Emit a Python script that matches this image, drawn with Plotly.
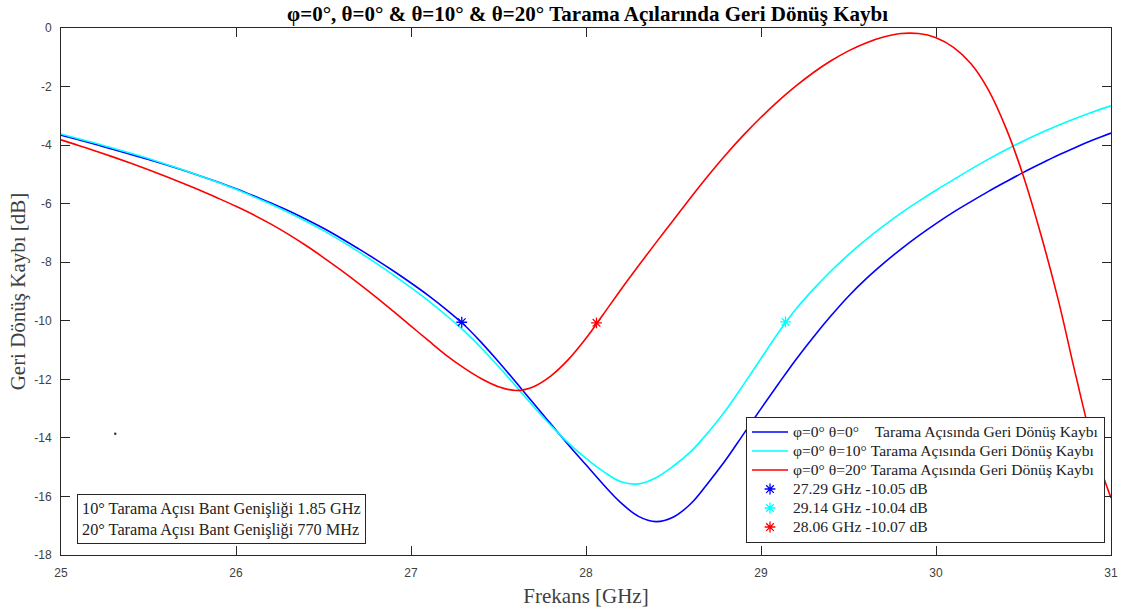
import plotly.graph_objects as go

# Frequency grid [GHz] shared by the three sweeps
freq = [25.0, 25.1, 25.2, 25.3, 25.4, 25.5, 25.6, 25.7, 25.8, 25.9,
        26.0, 26.1, 26.2, 26.3, 26.4, 26.5, 26.6, 26.7, 26.8, 26.9,
        27.0, 27.1, 27.2, 27.3, 27.4, 27.5, 27.6, 27.7, 27.8, 27.9,
        28.0, 28.1, 28.2, 28.3, 28.4, 28.5, 28.6, 28.7, 28.8, 28.9,
        29.0, 29.1, 29.2, 29.3, 29.4, 29.5, 29.6, 29.7, 29.8, 29.9,
        30.0, 30.1, 30.2, 30.3, 30.4, 30.5, 30.6, 30.7, 30.8, 30.9, 31.0]

# Return loss [dB], theta = 0 deg
rl_t0 = [-3.66, -3.82, -3.98, -4.15, -4.32, -4.49, -4.67, -4.86, -5.06, -5.27,
         -5.49, -5.73, -5.98, -6.24, -6.53, -6.84, -7.18, -7.54, -7.91, -8.30,
         -8.71, -9.14, -9.61, -10.12, -10.73, -11.40, -12.10, -12.82, -13.53, -14.24,
         -14.92, -15.60, -16.22, -16.68, -16.86, -16.70, -16.24, -15.52, -14.74, -13.87,
         -13.00, -12.15, -11.32, -10.55, -9.83, -9.16, -8.57, -8.04, -7.55, -7.10,
         -6.68, -6.29, -5.93, -5.58, -5.25, -4.93, -4.63, -4.34, -4.07, -3.82, -3.59]

# Return loss [dB], theta = 10 deg
rl_t10 = [-3.62, -3.78, -3.94, -4.11, -4.28, -4.46, -4.65, -4.85, -5.06, -5.28,
          -5.51, -5.76, -6.02, -6.30, -6.60, -6.92, -7.27, -7.64, -8.03, -8.44,
          -8.87, -9.32, -9.81, -10.33, -10.92, -11.56, -12.24, -12.93, -13.58, -14.18,
          -14.70, -15.15, -15.50, -15.57, -15.36, -14.96, -14.46, -13.80, -13.05, -12.18,
          -11.29, -10.40, -9.60, -8.92, -8.30, -7.74, -7.23, -6.76, -6.32, -5.92,
          -5.54, -5.18, -4.82, -4.48, -4.16, -3.86, -3.58, -3.32, -3.08, -2.86, -2.66]

# Return loss [dB], theta = 20 deg
rl_t20 = [-3.82, -4.01, -4.21, -4.41, -4.62, -4.84, -5.07, -5.31, -5.56, -5.82,
          -6.09, -6.38, -6.70, -7.05, -7.43, -7.84, -8.27, -8.72, -9.19, -9.68,
          -10.18, -10.68, -11.17, -11.60, -11.97, -12.25, -12.38, -12.25, -11.88, -11.32,
          -10.60, -9.77, -8.93, -8.12, -7.33, -6.56, -5.78, -5.03, -4.32, -3.66,
          -3.05, -2.49, -1.98, -1.52, -1.12, -0.78, -0.51, -0.31, -0.19, -0.19,
          -0.33, -0.66, -1.22, -2.12, -3.42, -5.07, -7.07, -9.32, -11.90, -14.30, -16.05]

# -10 dB crossing points
mark_freq = [27.29, 29.14, 28.06]
mark_rl = [-10.05, -10.04, -10.07]
mark_names = ["27.29 GHz -10.05 dB", "29.14 GHz -10.04 dB", "28.06 GHz -10.07 dB"]

line_names = [
    "φ=0° θ=0°\u00a0\u00a0\u00a0 Tarama Açısında Geri Dönüş Kaybı",
    "φ=0° θ=10° Tarama Açısında Geri Dönüş Kaybı",
    "φ=0° θ=20° Tarama Açısında Geri Dönüş Kaybı",
]
colors = ["#0000FF", "#00FFFF", "#FF0000"]

# stray data-tip point left on the axes
stray_freq = [25.31]
stray_rl = [-13.86]

x_ticks = [25, 26, 27, 28, 29, 30, 31]
y_ticks = [0, -2, -4, -6, -8, -10, -12, -14, -16, -18]
y_ticktext = ["0", "-2", "-4", "-6", "-8", "-10", "-12", "-14", "-16", "-18"]

title_text = "<b>φ=0°, θ=0° & θ=10° & θ=20° Tarama Açılarında Geri Dönüş Kaybı</b>"
box_text = ("10° Tarama Açısı Bant Genişliği 1.85 GHz<br>"
            "20° Tarama Açısı Bant Genişliği 770 MHz")

serif = "Liberation Serif, Times New Roman, serif"
sans = "Liberation Sans, Arial, sans-serif"


def legend_label(text):
    # larger glyphs than the legend's base size keep the rows compact
    return '<span style="font-size:15.6px">' + text + "</span>"


fig = go.Figure()

for fy, name, c in zip([rl_t0, rl_t10, rl_t20], line_names, colors):
    fig.add_trace(go.Scatter(
        x=freq, y=fy, mode="lines", name=legend_label(name),
        line=dict(color=c, width=1.6, shape="spline", smoothing=1),
    ))

for mx, my, name, c in zip(mark_freq, mark_rl, mark_names, colors):
    fig.add_trace(go.Scatter(
        x=[mx], y=[my], mode="markers", name=legend_label(name),
        marker=dict(symbol="asterisk", size=9, color=c,
                    line=dict(color=c, width=1.3)),
    ))

fig.add_trace(go.Scatter(
    x=stray_freq, y=stray_rl, mode="markers", showlegend=False,
    marker=dict(size=2.5, color="#333333"), hoverinfo="skip",
))

axis_common = dict(
    showline=True, linecolor="#262626", linewidth=1, mirror="ticks",
    ticks="inside", ticklen=9, tickwidth=1, tickcolor="#262626",
    showgrid=False, zeroline=False,
    tickfont=dict(family=sans, size=12, color="#404040"),
)

fig.update_xaxes(
    range=[25, 31], tickvals=x_ticks, ticktext=[str(v) for v in x_ticks],
    title=dict(text="Frekans [GHz]", font=dict(family=serif, size=21, color="#404040"),
               standoff=8),
    ticklabelstandoff=7,
    **axis_common,
)
fig.update_yaxes(
    range=[-18, 0], tickvals=y_ticks, ticktext=y_ticktext,
    title=dict(text="Geri Dönüş Kaybı [dB]", font=dict(family=serif, size=21, color="#404040"),
               standoff=2),
    ticklabelstandoff=6,
    **axis_common,
)

fig.add_annotation(
    xref="paper", yref="paper", x=0.0152, y=0.02, xanchor="left", yanchor="bottom",
    text=box_text, showarrow=False, align="left",
    font=dict(family=serif, size=16.3, color="#222222"),
    bordercolor="#262626", borderwidth=1, borderpad=4, bgcolor="white",
)

fig.update_layout(
    width=1130, height=615,
    margin=dict(l=61, r=16, t=28, b=60),
    paper_bgcolor="white", plot_bgcolor="white",
    title=dict(text=title_text, x=0.52, xanchor="center", y=0.99, yanchor="top",
               font=dict(family=serif, size=21, color="black")),
    legend=dict(
        x=0.9943, y=0.0237, xanchor="right", yanchor="bottom",
        bgcolor="white", bordercolor="#262626", borderwidth=1,
        font=dict(family=serif, size=11.8, color="#222222"),
        tracegroupgap=0, itemwidth=36,
    ),
    showlegend=True,
)

fig.write_html("out.html")
